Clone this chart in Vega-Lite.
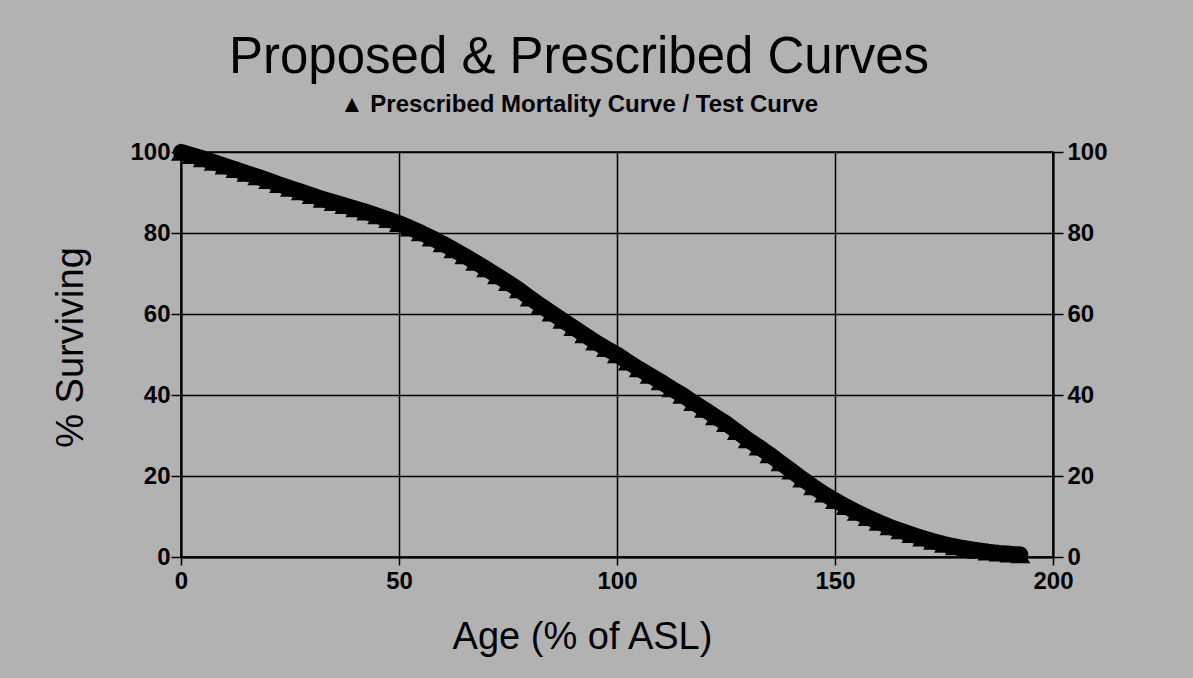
{
  "$schema": "https://vega.github.io/schema/vega-lite/v6.json",
  "width": 872,
  "height": 405,
  "autosize": "none",
  "padding": {"left": 181, "top": 152, "right": 140, "bottom": 121},
  "background": "#b2b2b2",
  "config": {
    "font": "Liberation Sans",
    "view": {"stroke": "black", "strokeWidth": 1.5, "fill": "#b2b2b2"},
    "axis": {
      "gridColor": "black", "gridWidth": 1.5, "gridOpacity": 1,
      "domainColor": "black", "domainWidth": 2,
      "tickColor": "black", "tickWidth": 1.5, "tickSize": 10,
      "labelColor": "black", "labelFontSize": 24, "labelFontWeight": "bold",
      "titleColor": "black", "titleFontWeight": "normal", "titleFontSize": 38
    }
  },
  "title": {
    "text": "Proposed & Prescribed Curves",
    "subtitle": "▲  Prescribed Mortality Curve  /  Test Curve",
    "fontSize": 51,
    "fontWeight": "normal",
    "color": "black",
    "subtitleFontSize": 24,
    "subtitleFontWeight": "bold",
    "subtitleColor": "black",
    "subtitlePadding": 9,
    "anchor": "middle",
    "dx": -38,
    "offset": 22
  },
  "data": {
    "values": [
      {"age": 0, "surviving": 100},
      {"age": 2.5, "surviving": 99.2},
      {"age": 5, "surviving": 98.4},
      {"age": 7.5, "surviving": 97.5},
      {"age": 10, "surviving": 96.6},
      {"age": 12.5, "surviving": 95.7},
      {"age": 15, "surviving": 94.8},
      {"age": 17.5, "surviving": 93.9},
      {"age": 20, "surviving": 93.0},
      {"age": 22.5, "surviving": 92.0},
      {"age": 25, "surviving": 91.1},
      {"age": 27.5, "surviving": 90.2},
      {"age": 30, "surviving": 89.3},
      {"age": 32.5, "surviving": 88.4},
      {"age": 35, "surviving": 87.6},
      {"age": 37.5, "surviving": 86.8},
      {"age": 40, "surviving": 86.0},
      {"age": 42.5, "surviving": 85.2},
      {"age": 45, "surviving": 84.3},
      {"age": 47.5, "surviving": 83.4},
      {"age": 50, "surviving": 82.4},
      {"age": 52.5, "surviving": 81.3},
      {"age": 55, "surviving": 80.1},
      {"age": 57.5, "surviving": 78.8},
      {"age": 60, "surviving": 77.4},
      {"age": 62.5, "surviving": 75.9},
      {"age": 65, "surviving": 74.4},
      {"age": 67.5, "surviving": 72.8},
      {"age": 70, "surviving": 71.2},
      {"age": 72.5, "surviving": 69.5},
      {"age": 75, "surviving": 67.8},
      {"age": 77.5, "surviving": 66.0},
      {"age": 80, "surviving": 64.0},
      {"age": 82.5, "surviving": 62.1},
      {"age": 85, "surviving": 60.3},
      {"age": 87.5, "surviving": 58.5},
      {"age": 90, "surviving": 56.7},
      {"age": 92.5, "surviving": 54.9},
      {"age": 95, "surviving": 53.1},
      {"age": 97.5, "surviving": 51.5},
      {"age": 100, "surviving": 50.0},
      {"age": 102.5, "surviving": 48.2},
      {"age": 105, "surviving": 46.5},
      {"age": 107.5, "surviving": 44.9},
      {"age": 110, "surviving": 43.3},
      {"age": 112.5, "surviving": 41.6},
      {"age": 115, "surviving": 40.0},
      {"age": 117.5, "surviving": 38.2},
      {"age": 120, "surviving": 36.5},
      {"age": 122.5, "surviving": 34.7},
      {"age": 125, "surviving": 33.0},
      {"age": 127.5, "surviving": 31.0},
      {"age": 130, "surviving": 29.0},
      {"age": 132.5, "surviving": 27.2},
      {"age": 135, "surviving": 25.3},
      {"age": 137.5, "surviving": 23.3},
      {"age": 140, "surviving": 21.3},
      {"age": 142.5, "surviving": 19.3},
      {"age": 145, "surviving": 17.4},
      {"age": 147.5, "surviving": 15.6},
      {"age": 150, "surviving": 14.0},
      {"age": 152.5, "surviving": 12.5},
      {"age": 155, "surviving": 11.1},
      {"age": 157.5, "surviving": 9.8},
      {"age": 160, "surviving": 8.6},
      {"age": 162.5, "surviving": 7.5},
      {"age": 165, "surviving": 6.5},
      {"age": 167.5, "surviving": 5.6},
      {"age": 170, "surviving": 4.7},
      {"age": 172.5, "surviving": 3.9},
      {"age": 175, "surviving": 3.2},
      {"age": 177.5, "surviving": 2.6},
      {"age": 180, "surviving": 2.1},
      {"age": 182.5, "surviving": 1.7},
      {"age": 185, "surviving": 1.3},
      {"age": 187.5, "surviving": 1.0},
      {"age": 190, "surviving": 0.8},
      {"age": 192.5, "surviving": 0.6}
    ]
  },
  "layer": [
    {
      "mark": {"type": "line", "color": "black", "strokeWidth": 16, "strokeCap": "round", "strokeJoin": "round", "clip": false},
      "encoding": {
        "x": {
          "field": "age", "type": "quantitative",
          "scale": {"domain": [0, 200], "nice": false, "zero": false},
          "axis": {
            "values": [0, 50, 100, 150, 200],
            "title": "Age (% of ASL)",
            "tickSize": 8,
            "labelPadding": 4,
            "labelFlush": false,
            "titleX": 401,
            "titleY": 91,
            "titleAlign": "center",
            "titleBaseline": "alphabetic"
          }
        },
        "y": {
          "field": "surviving", "type": "quantitative",
          "scale": {"domain": [0, 100], "nice": false},
          "axis": {
            "orient": "left",
            "values": [0, 20, 40, 60, 80, 100],
            "title": "% Surviving",
            "labelPadding": 1,
            "labelFlush": false,
            "titleX": -99,
            "titleY": 195,
            "titleAlign": "center",
            "titleBaseline": "alphabetic",
            "titleAngle": -90
          }
        }
      }
    },
    {
      "mark": {"type": "point", "shape": "triangle-up", "filled": true, "color": "black", "opacity": 1, "size": 400, "clip": false},
      "encoding": {
        "x": {"field": "age", "type": "quantitative", "scale": {"domain": [0, 200], "nice": false, "zero": false}},
        "y": {
          "field": "surviving", "type": "quantitative",
          "scale": {"domain": [0, 100], "nice": false},
          "axis": {
            "orient": "right",
            "values": [0, 20, 40, 60, 80, 100],
            "title": null,
            "grid": false,
            "labelPadding": 4,
            "labelFlush": false
          }
        }
      }
    }
  ],
  "resolve": {"scale": {"y": "independent"}, "axis": {"y": "independent"}}
}
